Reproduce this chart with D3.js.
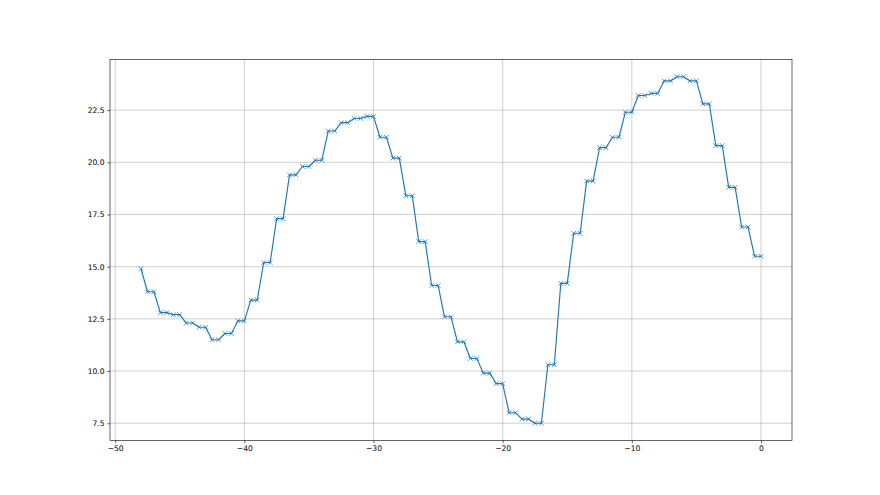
<!DOCTYPE html>
<html>
<head>
<meta charset="utf-8">
<script src="https://cdn.jsdelivr.net/npm/d3@7"></script>
<style>
  body { margin: 0; background: #fff; }
  svg { display: block; }
  .tick text { font-family: "DejaVu Sans", sans-serif; font-size: 7.6px; fill: #000; }
</style>
</head>
<body>
<div id="chart"></div>
<script>
// x positions (hours) and readings
const xs = [-48,
  -47.5, -47, -46.5, -46, -45.5, -45, -44.5, -44, -43.5, -43, -42.5, -42,
  -41.5, -41, -40.5, -40, -39.5, -39, -38.5, -38, -37.5, -37, -36.5, -36,
  -35.5, -35, -34.5, -34, -33.5, -33, -32.5, -32, -31.5, -31, -30.5, -30,
  -29.5, -29, -28.5, -28, -27.5, -27, -26.5, -26, -25.5, -25, -24.5, -24,
  -23.5, -23, -22.5, -22, -21.5, -21, -20.5, -20, -19.5, -19, -18.5, -18,
  -17.5, -17, -16.5, -16, -15.5, -15, -14.5, -14, -13.5, -13, -12.5, -12,
  -11.5, -11, -10.5, -10, -9.5, -9, -8.5, -8, -7.5, -7, -6.5, -6,
  -5.5, -5, -4.5, -4, -3.5, -3, -2.5, -2, -1.5, -1, -0.5, 0];
const ys = [14.9,
  13.8, 13.8, 12.8, 12.8, 12.7, 12.7, 12.3, 12.3, 12.1, 12.1, 11.5, 11.5,
  11.8, 11.8, 12.4, 12.4, 13.4, 13.4, 15.2, 15.2, 17.3, 17.3, 19.4, 19.4,
  19.8, 19.8, 20.1, 20.1, 21.5, 21.5, 21.9, 21.9, 22.1, 22.1, 22.2, 22.2,
  21.2, 21.2, 20.2, 20.2, 18.4, 18.4, 16.2, 16.2, 14.1, 14.1, 12.6, 12.6,
  11.4, 11.4, 10.6, 10.6, 9.9, 9.9, 9.4, 9.4, 8.0, 8.0, 7.7, 7.7,
  7.5, 7.5, 10.3, 10.3, 14.2, 14.2, 16.6, 16.6, 19.1, 19.1, 20.7, 20.7,
  21.2, 21.2, 22.4, 22.4, 23.2, 23.2, 23.3, 23.3, 23.9, 23.9, 24.1, 24.1,
  23.9, 23.9, 22.8, 22.8, 20.8, 20.8, 18.8, 18.8, 16.9, 16.9, 15.5, 15.5];
const xTicks = [-50, -40, -30, -20, -10, 0];
const yTicks = [7.5, 10.0, 12.5, 15.0, 17.5, 20.0, 22.5];

const width = 880, height = 495;
const margin = { top: 59.4, right: 88, bottom: 54.45, left: 110 };
const innerW = width - margin.left - margin.right;
const innerH = height - margin.top - margin.bottom;
const color = "#1f77b4";

const data = xs.map((x, i) => ({ x: x, y: ys[i] }));

// matplotlib style 5% padding
const xMin = d3.min(xs), xMax = d3.max(xs);
const yMin = d3.min(ys), yMax = d3.max(ys);
const xPad = (xMax - xMin) * 0.05, yPad = (yMax - yMin) * 0.05;

const x = d3.scaleLinear().domain([xMin - xPad, xMax + xPad]).range([0, innerW]);
const y = d3.scaleLinear().domain([yMin - yPad, yMax + yPad]).range([innerH, 0]);

const svg = d3.select("#chart").append("svg")
  .attr("width", width)
  .attr("height", height);

const g = svg.append("g")
  .attr("transform", `translate(${margin.left},${margin.top})`);

const fmtX = d => d3.format("d")(d).replace("-", "\u2212");
const fmtY = d => d3.format(".1f")(d).replace("-", "\u2212");

// grid
g.append("g").selectAll("line").data(xTicks).join("line")
  .attr("x1", d => x(d)).attr("x2", d => x(d))
  .attr("y1", 0).attr("y2", innerH)
  .attr("stroke", "#b0b0b0").attr("stroke-width", 0.6);
g.append("g").selectAll("line").data(yTicks).join("line")
  .attr("x1", 0).attr("x2", innerW)
  .attr("y1", d => y(d)).attr("y2", d => y(d))
  .attr("stroke", "#b0b0b0").attr("stroke-width", 0.6);

// axes
const xAxis = g.append("g")
  .attr("transform", `translate(0,${innerH})`)
  .call(d3.axisBottom(x).tickValues(xTicks).tickFormat(fmtX).tickSizeInner(2.7).tickSizeOuter(0).tickPadding(2.7));
const yAxis = g.append("g")
  .call(d3.axisLeft(y).tickValues(yTicks).tickFormat(fmtY).tickSizeInner(2.7).tickSizeOuter(0).tickPadding(2.7));
[xAxis, yAxis].forEach(a => {
  a.select(".domain").remove();
  a.selectAll(".tick line").attr("stroke", "#000").attr("stroke-width", 0.6);
});

// frame
g.append("rect")
  .attr("width", innerW).attr("height", innerH)
  .attr("fill", "none").attr("stroke", "#000").attr("stroke-width", 0.6);

// line
const line = d3.line().x(d => x(d.x)).y(d => y(d.y));
g.append("path").datum(data)
  .attr("d", line)
  .attr("fill", "none")
  .attr("stroke", color)
  .attr("stroke-width", 1.15)
  .attr("stroke-linejoin", "round");

// x markers
const ms = 2.3;
g.append("g").selectAll("path").data(data).join("path")
  .attr("d", d => {
    const cx = x(d.x), cy = y(d.y);
    return `M${cx - ms},${cy - ms}L${cx + ms},${cy + ms}M${cx - ms},${cy + ms}L${cx + ms},${cy - ms}`;
  })
  .attr("stroke", color)
  .attr("stroke-width", 0.76)
  .attr("fill", "none");
</script>
</body>
</html>
